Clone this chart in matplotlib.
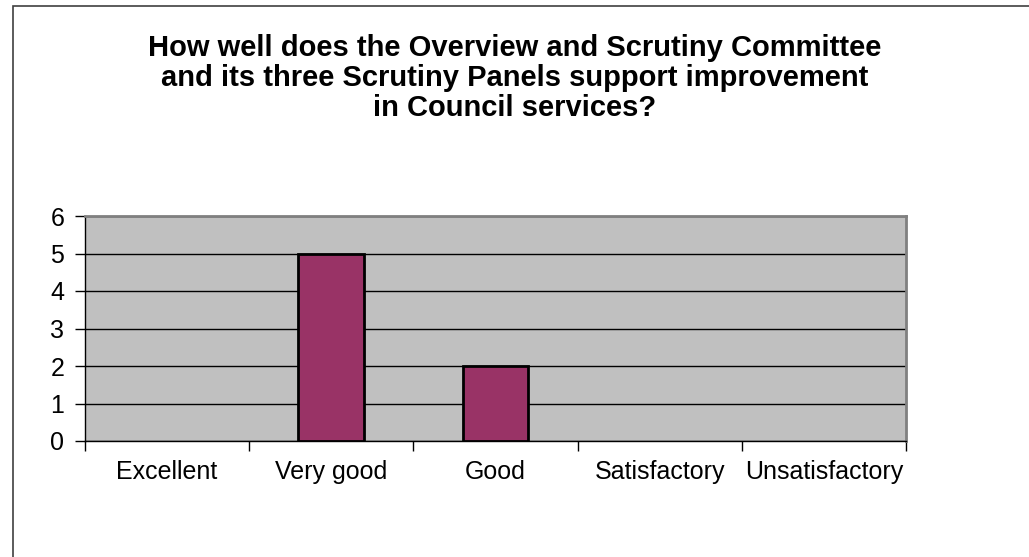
import numpy as np
import matplotlib
matplotlib.use("Agg")
import matplotlib.pyplot as plt
from matplotlib.patches import Rectangle

plt.rcParams["font.family"] = ["Liberation Sans", "DejaVu Sans"]

CATEGORIES = ["Excellent", "Very good", "Good", "Satisfactory", "Unsatisfactory"]
COUNTS = [0, 5, 2, 0, 0]
Y_TICKS = [0, 1, 2, 3, 4, 5, 6]
TITLE = ("How well does the Overview and Scrutiny Committee\n"
         "and its three Scrutiny Panels support improvement\n"
         "in Council services?")

W, H = 1029, 557
fig = plt.figure(figsize=(W / 100, H / 100), dpi=100)

# chart frame (only left and top edge fall inside the canvas)
fig.patches.append(Rectangle((13 / W, -0.1), 1.2, 1 - 6 / H + 0.1, transform=fig.transFigure,
                             facecolor="none", edgecolor="#404040", linewidth=1.2))

ax = fig.add_axes([85 / W, 1 - 441 / H, (906 - 85) / W, (441 - 216) / H])
ax.set_facecolor("#c0c0c0")

x = np.arange(len(CATEGORIES))
bars = ax.bar(x, COUNTS, width=0.4, color="#993366", edgecolor="black", linewidth=2, zorder=3)
for b, v in zip(bars, COUNTS):
    b.set_visible(v > 0)

ax.set_xlim(-0.5, len(CATEGORIES) - 0.5)
ax.set_ylim(0, 6)
ax.set_yticks(Y_TICKS)
ax.yaxis.grid(True, color="black", linewidth=1)
ax.set_axisbelow(True)

ax.set_xticks(np.arange(len(CATEGORIES) + 1) - 0.5)
ax.set_xticklabels([])
ax.set_xticks(x, minor=True)
ax.set_xticklabels(CATEGORIES, minor=True, fontsize=18)
ax.tick_params(axis="x", which="minor", length=0, pad=14)
ax.tick_params(axis="x", which="major", length=7, width=1, direction="out")
ax.tick_params(axis="y", length=7, width=1, direction="out", labelsize=18, pad=8)

for side in ("top", "right"):
    ax.spines[side].set_color("#808080")
    ax.spines[side].set_linewidth(2)
for side in ("left", "bottom"):
    ax.spines[side].set_color("black")
    ax.spines[side].set_linewidth(1)

fig.text(0.5, 1 - 34 / H, TITLE, ha="center", va="top", fontsize=21, fontweight="bold",
         linespacing=1.1)

fig.savefig("out.png", dpi=100)
plt.close(fig)
